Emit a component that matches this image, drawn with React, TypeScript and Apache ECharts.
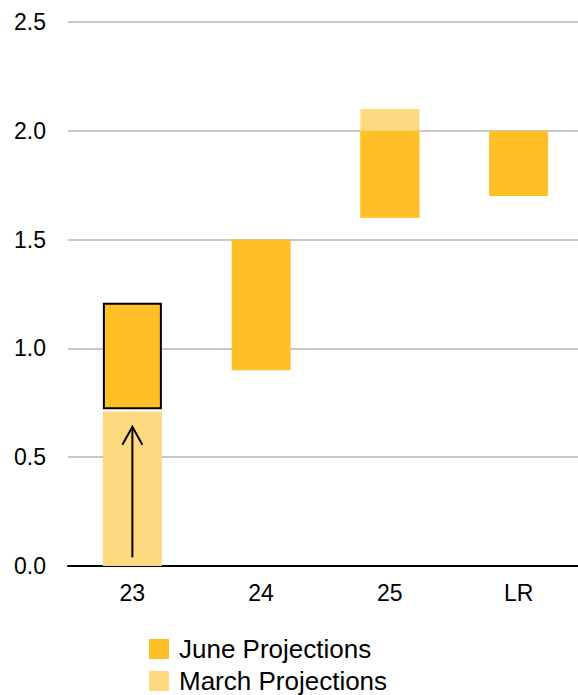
import React, { useEffect, useRef } from "react";
import * as echarts from "echarts";

const categories = ["23", "24", "25", "LR"];
const juneLow = [0.72, 0.9, 1.6, 1.7];
const juneHigh = [1.21, 1.5, 2.0, 2.0];
const marchLow: (number | null)[] = [0, null, 1.6, null];
const marchHigh: (number | null)[] = [0.71, null, 2.1, null];
const yTicks = [0, 0.5, 1.0, 1.5, 2.0, 2.5];
const legendNames = ["June Projections", "March Projections"];
const arrowFrom = 0.04;
const arrowTo = 0.64;
const arrowCategory = "23";

const JUNE = "#FFBF27";
const MARCH = "#FFD97F";
const FONT = "Liberation Sans, Arial, sans-serif";

export default function App() {
  const ref = useRef<HTMLDivElement>(null);
  useEffect(() => {
    if (!ref.current) return;
    const chart = echarts.init(ref.current, undefined, { renderer: "svg" });
    const diff = (hi: (number | null)[], lo: (number | null)[]) =>
      hi.map((h, i) => (h == null || lo[i] == null ? null : +(h - (lo[i] as number)).toFixed(3)));
    const legendBase = {
      orient: "vertical",
      left: 144,
      itemWidth: 20,
      itemHeight: 20,
      icon: "rect",
      textStyle: { fontSize: 26, color: "#000", fontFamily: FONT, padding: [0, 0, 0, 5] },
    };
    chart.setOption({
      animation: false,
      grid: { left: 68, width: 515, top: 22, bottom: 129, outerBoundsMode: "none" },
      legend: [
        { ...legendBase, top: 631, data: [legendNames[0]] },
        { ...legendBase, top: 663, data: [legendNames[1]] },
      ],
      xAxis: {
        type: "category",
        data: categories,
        axisTick: { show: false },
        axisLine: { lineStyle: { color: "#000", width: 2 } },
        axisLabel: { fontSize: 23, color: "#000", fontFamily: FONT, margin: 15 },
      },
      yAxis: {
        type: "value",
        min: yTicks[0],
        max: yTicks[yTicks.length - 1],
        interval: 0.5,
        axisLine: { show: false },
        axisTick: { show: false },
        splitLine: { lineStyle: { color: "#c8c8c8", width: 2 } },
        axisLabel: {
          fontSize: 23,
          color: "#000",
          fontFamily: FONT,
          margin: 22,
          formatter: (v: number) => v.toFixed(1),
        },
      },
      series: [
        {
          name: "marchBase",
          type: "bar",
          stack: "march",
          barWidth: 59,
          barGap: "-100%",
          itemStyle: { color: "transparent" },
          data: marchLow,
          silent: true,
        },
        {
          name: legendNames[1],
          type: "bar",
          stack: "march",
          barWidth: 59,
          barGap: "-100%",
          itemStyle: { color: MARCH },
          data: diff(marchHigh, marchLow),
        },
        {
          name: "juneBase",
          type: "bar",
          stack: "june",
          barWidth: 59,
          barGap: "-100%",
          itemStyle: { color: "transparent" },
          data: juneLow,
          silent: true,
        },
        {
          name: legendNames[0],
          type: "bar",
          stack: "june",
          barWidth: 59,
          barGap: "-100%",
          itemStyle: { color: JUNE },
          data: diff(juneHigh, juneLow).map((v, i) =>
            i === 0
              ? { value: v, itemStyle: { color: JUNE, borderColor: "#000", borderWidth: 2 } }
              : v
          ),
        },
      ],
    });
    const p1 = chart.convertToPixel({ xAxisIndex: 0, yAxisIndex: 0 }, [arrowCategory, arrowFrom]);
    const p2 = chart.convertToPixel({ xAxisIndex: 0, yAxisIndex: 0 }, [arrowCategory, arrowTo]);
    chart.setOption({
      graphic: [
        {
          type: "line",
          shape: { x1: p1[0], y1: p1[1], x2: p2[0], y2: p2[1] },
          style: { stroke: "#000", lineWidth: 2 },
          z: 100,
        },
        {
          type: "polyline",
          shape: {
            points: [
              [p2[0] - 10, p2[1] + 18],
              [p2[0], p2[1]],
              [p2[0] + 10, p2[1] + 18],
            ],
          },
          style: { stroke: "#000", lineWidth: 2, fill: "none" },
          z: 100,
        },
      ],
    });
    return () => chart.dispose();
  }, []);
  return (
    <div
      ref={ref}
      style={{ position: "absolute", left: 0, top: 0, width: 578, height: 695 }}
    />
  );
}
